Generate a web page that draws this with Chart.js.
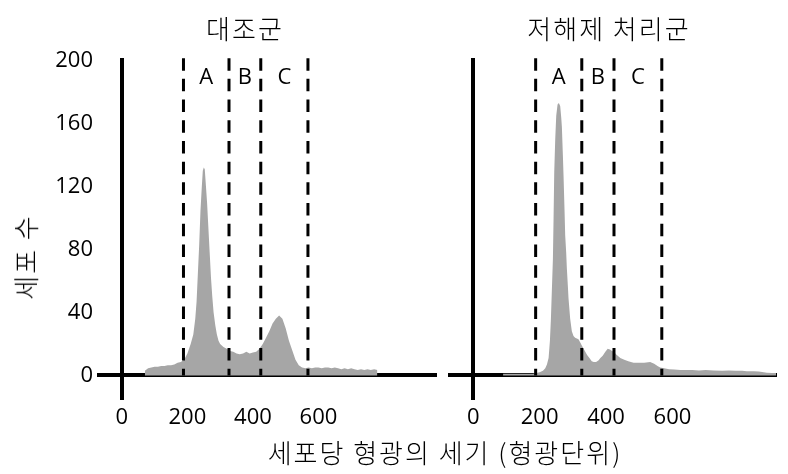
<!DOCTYPE html>
<html>
<head>
<meta charset="utf-8">
<script src="https://cdn.jsdelivr.net/npm/chart.js@4"></script>
<style>
  html, body { margin: 0; padding: 0; background: #ffffff; }
  #wrap { position: relative; width: 788px; height: 474px; overflow: hidden; background: #fff; }
  canvas { position: absolute; top: 0; }
  .lbl { position: absolute; transform: translate(-50%, -50%); white-space: nowrap;
         font-family: "Noto Sans CJK KR", "Noto Sans", sans-serif; font-weight: 300; color: #000;
         font-size: 26px; letter-spacing: 2px; line-height: 1; }
  .rot { transform: translate(-50%, -50%) rotate(-90deg); }
</style>
</head>
<body>
<div id="wrap">
  <canvas id="c1" width="440" height="474" style="left:0px;width:440px;height:474px"></canvas>
  <canvas id="c2" width="348" height="474" style="left:440px;width:348px;height:474px"></canvas>
  <div class="lbl" id="t1" style="left:245px;top:28px"></div>
  <div class="lbl" id="t2" style="left:609px;top:28px"></div>
  <div class="lbl rot" id="ty" style="left:25px;top:257px"></div>
  <div class="lbl" id="tx" style="left:445px;top:452px"></div>
</div>
<script>
// ---- text ----
const panelTitles = ["대조군", "저해제 처리군"];
const yAxisTitle = "세포 수";
const xAxisTitle = "세포당 형광의 세기 (형광단위)";
const gateLetters = ["A", "B", "C"];

// ---- ticks ----
const xTickValues = [0, 200, 400, 600];
const yTickValues = [0, 40, 80, 120, 160, 200];

// ---- gate boundaries (dashed lines), fluorescence units ----
const gateBounds = [188, 327, 424, 568];

// ---- control group histogram ----
const controlIntensity = [70,80,90,100,110,120,130,140,150,160,170,180,190,200,210,218,224,228,232,236,240,244,247,250,253,256,260,264,268,272,276,280,285,290,295,300,310,320,330,340,350,360,370,380,390,400,410,420,430,440,450,460,470,480,490,500,510,520,530,540,550,560,570,580,590,600,610,620,630,640,650,660,670,680,690,700,710,720,730,740,750,760,770,780];
const controlCounts    = [3,4.5,5,5.5,5.5,6,6,6.5,6.5,7,8,8.5,10,14,20,26,36,47,65,83,105,120,130,132,131,122,110,94,78,62,50,40,32,26,22,20,18,17,15.5,15,14,13.5,14,15,14,14.5,15,17,20,24,28,33,36,38,36,30,22,16,10,6.5,5,4.5,5,4.5,5,5,4.5,5,5,4.5,5,4.5,4,4.5,4,4.5,4,3.5,4,3.5,4,3.5,4,3.5];

// ---- inhibitor-treated group histogram ----
const treatedIntensity = [90,100,120,140,160,180,190,200,210,217,222,227,231,234,237,240,242,244,247,250,254,258,262,265,267,270,272,275,277,280,282,285,287,292,297,302,307,317,322,327,335,343,350,357,363,370,377,383,390,398,405,412,418,424,430,443,455,467,483,500,515,533,545,555,563,575,590,605,624,640,660,680,700,724,750,770,790,810,824,845,860,875,884,900,912];
const treatedCounts    = [1,1,1,1,1,1,1.5,2,3,4.5,7,11,22,36,55,74,100,129,150,165,172,173,171,164,158,140,127,105,89,78,68,57,49,36,28,25,24,23,21,19,16,13,11,9,8.5,8.5,9.5,11,12.5,15,17,16.5,15.5,15,13.5,11,10,9,8,8,8,8.5,7.5,6,5,4.5,4,3.8,3.5,3.5,3.5,3.2,3.5,3.2,3,3.2,3,3,2.7,2.7,2.5,2,1.7,1.5,1.5];

document.getElementById('t1').textContent = panelTitles[0];
document.getElementById('t2').textContent = panelTitles[1];
document.getElementById('ty').textContent = yAxisTitle;
document.getElementById('tx').textContent = xAxisTitle;

const TICK_FONT = { family: "'Open Sans', 'Liberation Sans', sans-serif", size: 22 };
const HIST_COLOR = '#a6a6a6';

const gateLetterPlugin = {
  id: 'gateLetters',
  afterDatasetsDraw(chart) {
    const xs = chart.scales.x, ys = chart.scales.y, ctx = chart.ctx;
    ctx.save();
    ctx.font = "22px 'Open Sans', 'Liberation Sans', sans-serif";
    ctx.fillStyle = '#000';
    ctx.textAlign = 'center';
    ctx.textBaseline = 'middle';
    for (let i = 0; i < gateLetters.length; i++) {
      const mid = (gateBounds[i] + gateBounds[i + 1]) / 2;
      ctx.fillText(gateLetters[i], xs.getPixelForValue(mid), ys.getPixelForValue(189));
    }
    ctx.restore();
  }
};

function makeDatasets(xArr, yArr) {
  const ds = [{
    data: xArr.map((x, i) => ({ x: x, y: yArr[i] })),
    fill: 'origin',
    backgroundColor: HIST_COLOR,
    borderColor: HIST_COLOR,
    borderWidth: 0,
    pointRadius: 0,
    tension: 0,
    order: 2
  }];
  gateBounds.forEach(g => {
    ds.push({
      data: [{ x: g, y: 201.5 }, { x: g, y: 0 }],
      fill: false,
      borderColor: '#000',
      borderWidth: 3,
      borderDash: [12.5, 8.2],
      pointRadius: 0,
      order: 1
    });
  });
  return ds;
}

function axisGrid() {
  return {
    color: ctx => (ctx.tick && ctx.tick.value === 0) ? '#000' : 'rgba(0,0,0,0)',
    lineWidth: 4,
    drawTicks: false
  };
}

function makeChart(id, xArr, yArr, xMax, showYTicks, yWidth, padRight) {
  return new Chart(document.getElementById(id), {
    type: 'line',
    data: { datasets: makeDatasets(xArr, yArr) },
    options: {
      responsive: false,
      animation: false,
      events: [],
      layout: { padding: { top: 58, right: padRight, left: 0, bottom: 0 } },
      plugins: { legend: { display: false }, tooltip: { enabled: false }, title: { display: false } },
      scales: {
        x: {
          type: 'linear',
          min: -76,
          max: xMax,
          z: 1,
          afterBuildTicks: s => { s.ticks = xTickValues.map(v => ({ value: v })); },
          afterFit: s => { s.height = 74; },
          ticks: { font: TICK_FONT, color: '#000', padding: 5, autoSkip: false, maxRotation: 0 },
          grid: axisGrid(),
          border: { display: false }
        },
        y: {
          type: 'linear',
          min: -15.6,
          max: 201.6,
          z: 1,
          afterBuildTicks: s => { s.ticks = yTickValues.map(v => ({ value: v })); },
          afterFit: s => { s.width = yWidth; },
          ticks: { display: showYTicks, font: TICK_FONT, color: '#000', padding: 4 },
          grid: axisGrid(),
          border: { display: false }
        }
      }
    },
    plugins: [gateLetterPlugin]
  });
}

makeChart('c1', controlIntensity, controlCounts, 962, true, 97, 3);
makeChart('c2', treatedIntensity, treatedCounts, 915, false, 8, 11);
</script>
</body>
</html>
